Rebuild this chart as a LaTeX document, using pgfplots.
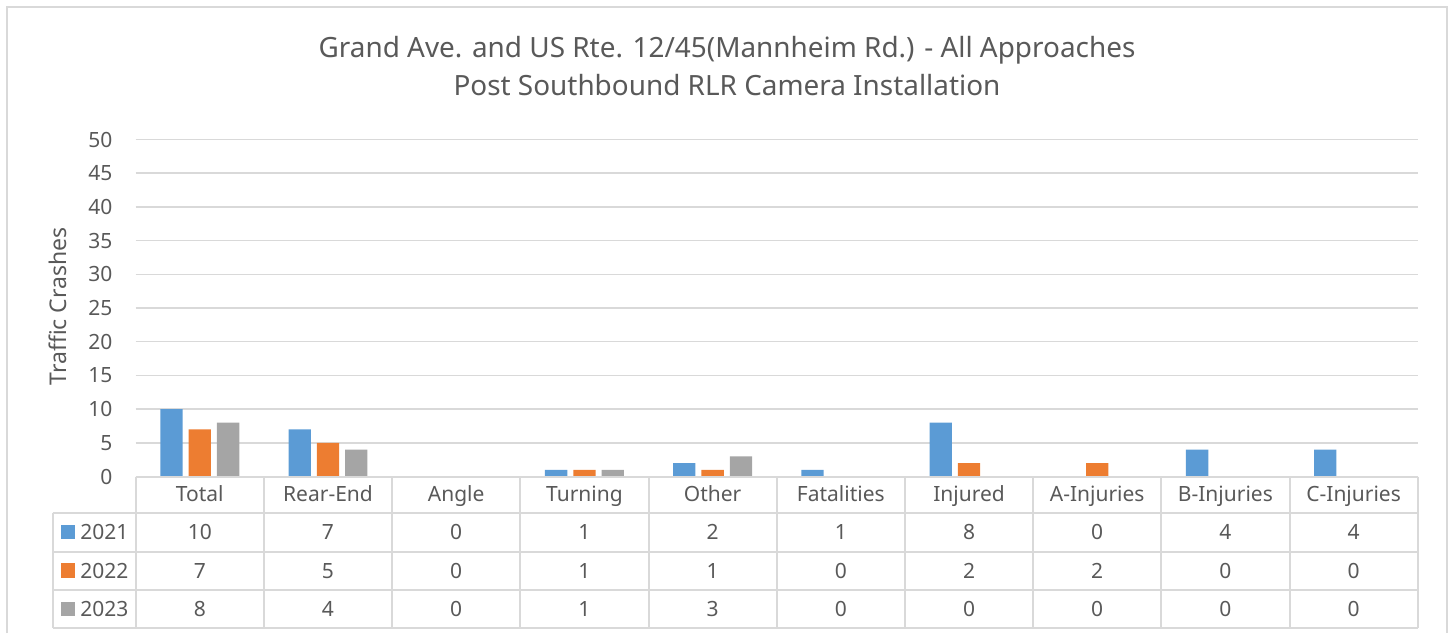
\documentclass[border=0pt]{standalone}
\usepackage{pgfplots}
\pgfplotsset{compat=1.18}
\usepackage{fontspec}
\setmainfont{Noto Sans}
\definecolor{cA}{HTML}{5B9BD5}
\definecolor{cB}{HTML}{ED7D31}
\definecolor{cC}{HTML}{A5A5A5}
\definecolor{gridc}{HTML}{D9D9D9}
\definecolor{txt}{HTML}{595959}
\newcommand{\tfont}{\fontsize{10.5}{12}\selectfont}
\begin{document}
\begin{tikzpicture}
\begin{axis}[
  at={(67.85pt,-238.25pt)}, anchor=south west,
  scale only axis, width=641pt, height=168.5pt,
  xmin=-0.5, xmax=9.5, ymin=0, ymax=50,
  ytick={0,5,...,50}, xtick=\empty,
  ymajorgrids, grid style={draw=gridc, line width=0.75pt},
  axis line style={draw=none}, major tick length=0pt,
  /pgf/number format/assume math mode=true,
  yticklabel style={font=\tfont, text=txt, inner sep=0pt, xshift=-11.5pt},
  ybar, bar width=11.15pt,
]
\addplot[fill=cA, draw=none, bar shift=-14.15pt] coordinates {(0,10) (1,7) (2,0) (3,1) (4,2) (5,1) (6,8) (7,0) (8,4) (9,4)};
\addplot[fill=cB, draw=none, bar shift=0pt] coordinates {(0,7) (1,5) (2,0) (3,1) (4,1) (5,0) (6,2) (7,2) (8,0) (9,0)};
\addplot[fill=cC, draw=none, bar shift=14.15pt] coordinates {(0,8) (1,4) (2,0) (3,1) (4,3) (5,0) (6,0) (7,0) (8,0) (9,0)};
\end{axis}
\begin{scope}[x=0.5pt, y=-0.5pt]
  % outer border
  \draw[gridc, line width=1pt] (6.7,633) -- (6.7,7.3) -- (1446.7,7.3) -- (1446.7,633);
  % title
  \node[anchor=base, text=txt, font=\fontsize{13.95}{16}\selectfont, inner sep=0pt] at (727,57.3) {Grand Ave. and US Rte. 12/45(Mannheim Rd.) - All Approaches};
  \node[anchor=base, text=txt, font=\fontsize{13.95}{16}\selectfont, inner sep=0pt] at (727,95.7) {Post Southbound RLR Camera Installation};
  % y label
  \node[rotate=90, anchor=center, text=txt, font=\fontsize{11.5}{13}\selectfont, inner sep=0pt] at (58,306.5) {Traffic Crashes};
  % data table grid
  \begin{scope}[gridc, line width=1pt]
    \draw (135.7,476.5) -- (1417.7,476.5);
    \draw (52.7,512.7) -- (1417.7,512.7);
    \draw (52.7,551.5) -- (1417.7,551.5);
    \draw (52.7,590) -- (1417.7,590);
    \draw (52.7,628.3) -- (1417.7,628.3);
    \draw (52.7,512.7) -- (52.7,628.3);
    \foreach \k in {0,...,10} { \draw ({135.7+128.2*\k},476.5) -- ({135.7+128.2*\k},628.3); }
  \end{scope}
  % header
  \foreach \n [count=\i from 0] in {Total,Rear-End,Angle,Turning,Other,Fatalities,Injured,A-Injuries,B-Injuries,C-Injuries}
    \node[anchor=base, text=txt, font=\tfont, inner sep=0pt] at ({199.8+128.2*\i},501.7) {\n};
  % rows
  \foreach \v [count=\i from 0] in {10,7,0,1,2,1,8,0,4,4}
    \node[anchor=base, text=txt, font=\tfont, inner sep=0pt] at ({199.8+128.2*\i},539.5) {\v};
  \foreach \v [count=\i from 0] in {7,5,0,1,1,0,2,2,0,0}
    \node[anchor=base, text=txt, font=\tfont, inner sep=0pt] at ({199.8+128.2*\i},578.3) {\v};
  \foreach \v [count=\i from 0] in {8,4,0,1,3,0,0,0,0,0}
    \node[anchor=base, text=txt, font=\tfont, inner sep=0pt] at ({199.8+128.2*\i},616.7) {\v};
  % legend
  \fill[cA] (61,524.5) rectangle (75,538.9);
  \fill[cB] (61,563.3) rectangle (75,577.7);
  \fill[cC] (61,601.9) rectangle (75,616.3);
  \node[anchor=base west, text=txt, font=\tfont, inner sep=0pt] at (80,539.5) {2021};
  \node[anchor=base west, text=txt, font=\tfont, inner sep=0pt] at (80,578.3) {2022};
  \node[anchor=base west, text=txt, font=\tfont, inner sep=0pt] at (80,616.7) {2023};
  \pgfresetboundingbox
  \path[use as bounding box] (0,0) rectangle (1450,633);
\end{scope}
\end{tikzpicture}
\end{document}
